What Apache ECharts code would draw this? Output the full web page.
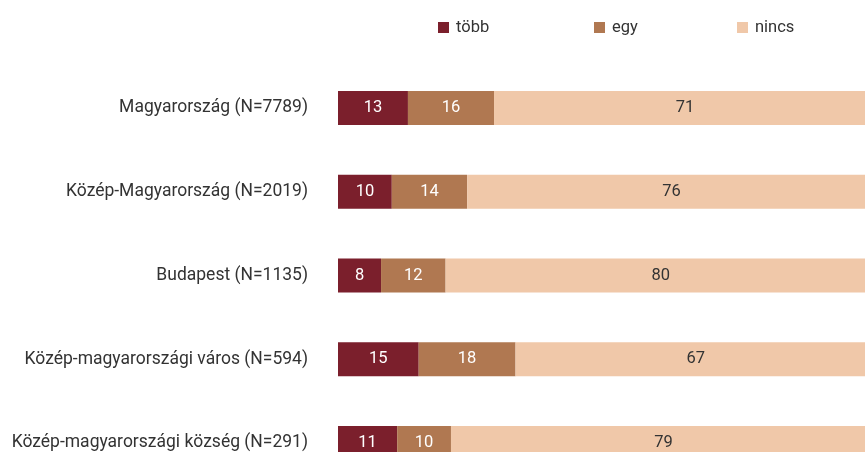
<!DOCTYPE html>
<html><head><meta charset="utf-8">
<script src="https://cdn.jsdelivr.net/npm/echarts@6/dist/echarts.min.js"></script>
<style>html,body{margin:0;padding:0;background:#fff;overflow:hidden;width:865px;height:452px}#c{width:876px;height:485px}</style>
</head><body><div id="c"></div>
<script>
const categories = ["Magyarország (N=7789)","Közép-Magyarország (N=2019)","Budapest (N=1135)","Közép-magyarországi város (N=594)","Közép-magyarországi község (N=291)"];
const seriesNames = ["több","egy","nincs"];
const tobb = [13,10,8,15,11];
const egy = [16,14,12,18,10];
const nincs = [71,76,80,67,79];
const colors = ["#7b1f2c","#b07851","#f0c8a9"];
const labelColors = ["#ffffff","#ffffff","#333333"];
const FONT = "Roboto,sans-serif";
const values = [tobb, egy, nincs];
const chart = echarts.init(document.getElementById('c'));
const legendPos = [433, 589, 732];
chart.setOption({
  animation:false,
  textStyle:{fontFamily:FONT},
  legend: seriesNames.map((n,i)=>({
    data:[n], left:legendPos[i], top:14, itemWidth:11, itemHeight:11, icon:'rect', itemGap:0,
    textStyle:{fontFamily:FONT,fontSize:16.5,color:'#333',padding:[0,0,0,2]}
  })),
  grid:{left:338,right:0,top:66,bottom:0,containLabel:false},
  xAxis:{type:'value',min:0,max:100,show:false},
  yAxis:{type:'category',data:categories,inverse:true,axisLine:{show:false},axisTick:{show:false},
    axisLabel:{fontFamily:FONT,fontSize:17.5,color:'#333',margin:30}},
  series: seriesNames.map((n,i)=>({
    name:n,type:'bar',stack:'s',barWidth:34,data:values[i],
    itemStyle:{color:colors[i]},
    label:{show:true,position:'inside',color:labelColors[i],fontFamily:FONT,fontSize:16.5}
  }))
});
</script></body></html>
